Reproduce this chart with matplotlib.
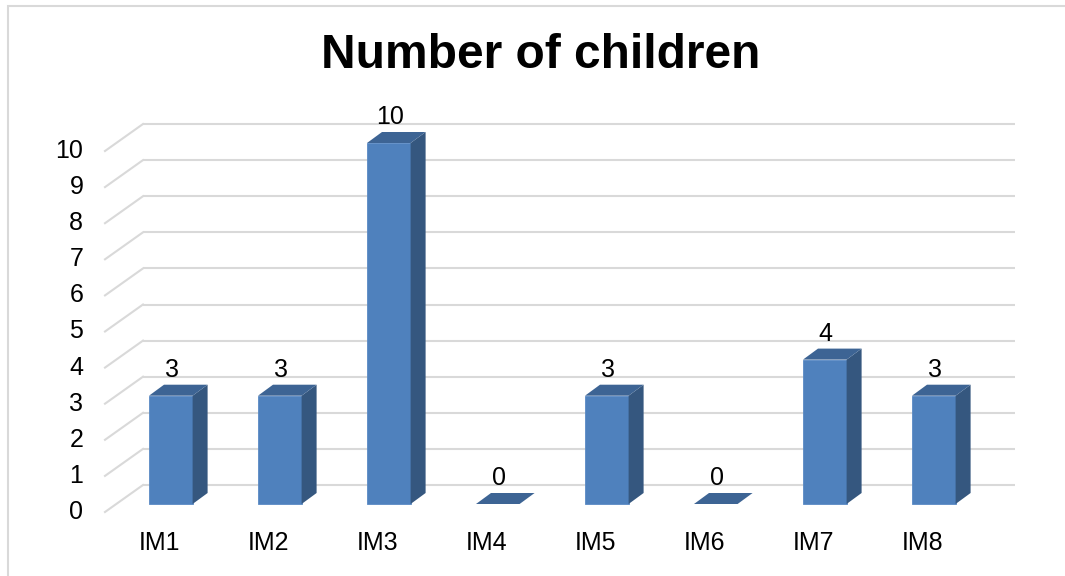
import numpy as np
import matplotlib
matplotlib.use("Agg")
import matplotlib.pyplot as plt
from matplotlib.patches import Rectangle, Polygon
from matplotlib.transforms import ScaledTranslation

plt.rcParams["font.family"] = ["Liberation Sans", "DejaVu Sans"]

categories = ["IM1", "IM2", "IM3", "IM4", "IM5", "IM6", "IM7", "IM8"]
children = [3, 3, 10, 0, 3, 0, 4, 3]
y_ticks = list(range(0, 11))

FRONT, SIDE, TOP = "#4F81BD", "#35577F", "#3D6494"
GRID = "#D9D9D9"
DPI = 100
BAR_W = 0.4

fig = plt.figure(figsize=(10.65, 5.76), dpi=DPI)
W, H = 1065, 576
ax = fig.add_axes([116.3 / W, 72 / H, 872 / W, 361 / H])
ax.set_xlim(-0.5, 7.5)
ax.set_ylim(0, 10)
ax.axis("off")


def shift(dx, dy):
    # pixel offset on top of data coordinates
    return ax.transData + ScaledTranslation(dx / DPI, dy / DPI, fig.dpi_scale_trans)


# pixel size of one data unit, used to turn the bar depth into data units
p0 = ax.transData.transform((0, 0))
p1 = ax.transData.transform((1, 1))
ux, uy = p1 - p0
ddx, ddy = 15 / ux, 11 / uy

# back wall and left side wall grid
x0, x1 = ax.get_xlim()
for v in y_ticks:
    ax.plot([x0, x1], [v, v], color=GRID, lw=1.5, transform=shift(26.7, 19),
            clip_on=False, zorder=1, solid_capstyle="butt")
    fx, fy = shift(-11.3, -8).transform((x0, v))
    bx, by = shift(26.7, 19).transform((x0, v))
    ax.plot([fx, bx], [fy, by], color=GRID, lw=1.5, transform=None,
            clip_on=False, zorder=1)
    ax.text(x0, v, str(v), transform=shift(-33, -8), ha="right", va="center",
            fontsize=18, color="black")

# 3-D looking bars
for i, (name, v) in enumerate(zip(categories, children)):
    l, r = i - BAR_W / 2, i + BAR_W / 2
    if v > 0:
        ax.add_patch(Rectangle((l, 0), BAR_W, v, facecolor=FRONT, edgecolor="#5A8AC4",
                               lw=0.6, clip_on=False, zorder=3))
        ax.add_patch(Polygon([(r, 0), (r + ddx, ddy), (r + ddx, v + ddy), (r, v)],
                             closed=True, facecolor=SIDE, edgecolor="none",
                             clip_on=False, zorder=3))
    ax.add_patch(Polygon([(l, v), (r, v), (r + ddx, v + ddy), (l + ddx, v + ddy)],
                         closed=True, facecolor=TOP, edgecolor="none",
                         clip_on=False, zorder=3))
    ax.text(i, v, str(v), transform=shift(1, 26), ha="center", va="center",
            fontsize=18, color="black", zorder=4)
    ax.text(i, 0, name, transform=shift(-11.3, -39), ha="center", va="center",
            fontsize=18, color="black")

fig.text(541 / W, 1 - 56 / H, "Number of children", ha="center", va="center",
         fontsize=34.5, fontweight="bold", color="black")

# chart area border
fig.patches.append(Rectangle((8 / W, -0.1), 1.2, (H - 6) / H + 0.1, transform=fig.transFigure,
                             fill=False, edgecolor=GRID, lw=1.5))

fig.savefig("out.png", dpi=DPI)
